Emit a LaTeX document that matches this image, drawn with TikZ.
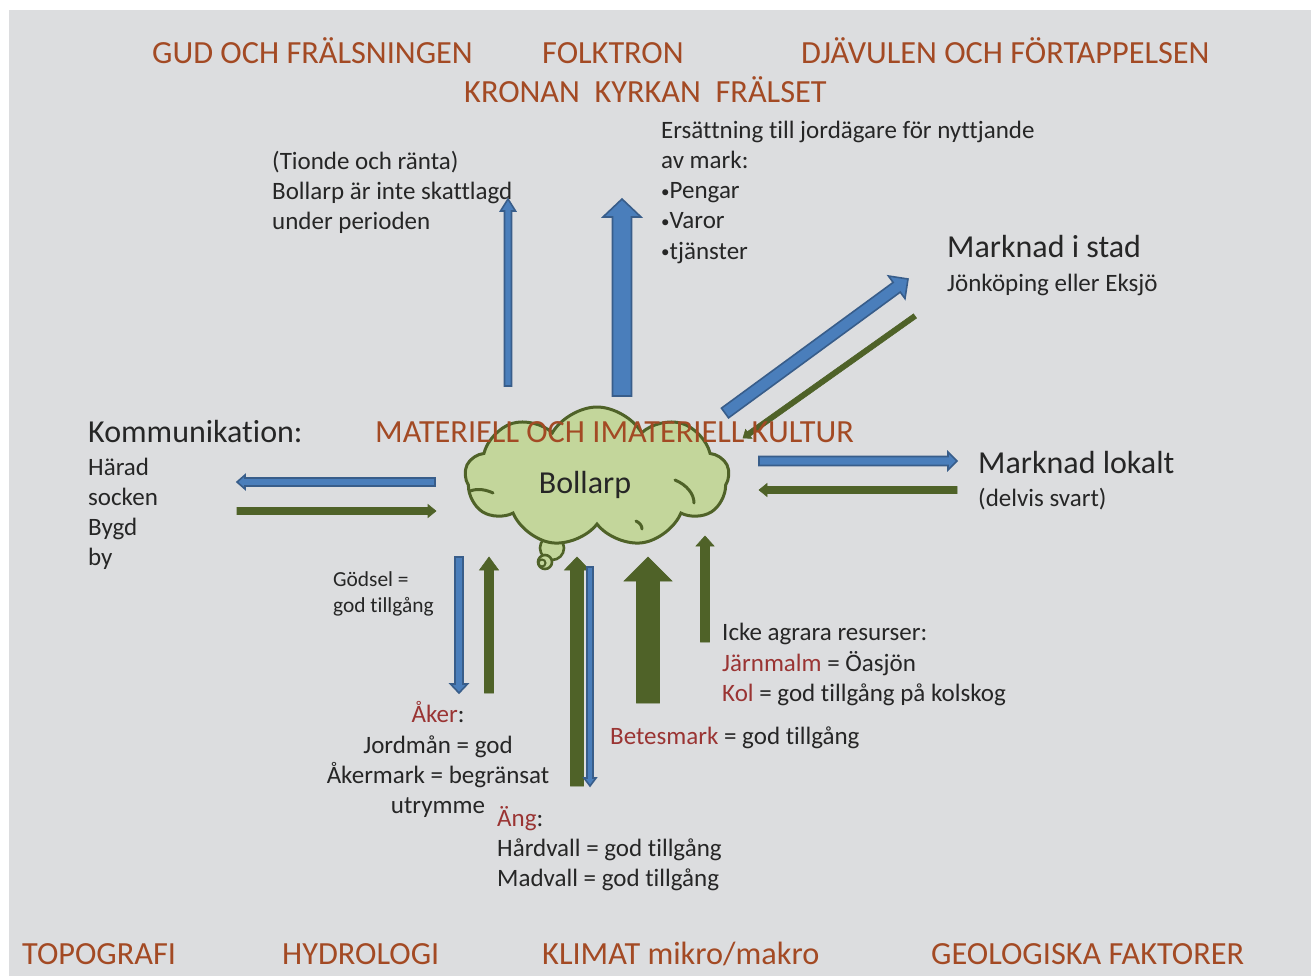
\documentclass[tikz,border=0pt]{standalone}
\usepackage{fontspec}
\setmainfont{Carlito}[Ligatures={NoCommon}]
\usetikzlibrary{shapes.symbols}
\definecolor{bg}{HTML}{DCDDDF}
\definecolor{ttl}{HTML}{A34A24}
\definecolor{lbl}{HTML}{9A3433}
\definecolor{ink}{HTML}{262626}
\definecolor{bfill}{HTML}{4A7EBB}
\definecolor{bline}{HTML}{385D8A}
\definecolor{gfill}{HTML}{4F6228}
\definecolor{cfill}{HTML}{C3D69B}
\newcommand\barr[8]{%
 \pgfmathsetmacro\bdx{(#3)-(#1)}%
 \pgfmathsetmacro\bdy{(#4)-(#2)}%
 \pgfmathsetmacro\bL{veclen(\bdx,\bdy)}%
 \pgfmathsetmacro\bA{atan2(0-(\bdy),\bdx)}%
 \pgfmathsetmacro\bB{\bL-(#7)}%
 \begin{scope}[shift={(#1,#2)},rotate=\bA]
 \draw[#8] (0,-#5) -- (\bB,-#5) -- (\bB,-#6) -- (\bL,0) -- (\bB,#6) -- (\bB,#5) -- (0,#5) -- cycle;
 \end{scope}}
\newcommand\bul{\raisebox{1.5pt}{\fontsize{17}{17}\selectfont•}}
\begin{document}
\begin{tikzpicture}[x=1pt,y=-1pt,
 title/.style={anchor=base west, inner sep=0, text=ttl, font=\fontsize{32.3}{38}\selectfont},
 big/.style={anchor=base west, inner sep=0, text=ink, font=\fontsize{32}{38}\selectfont},
 body/.style={anchor=base west, inner sep=0, text=ink, font=\fontsize{25}{30}\selectfont},
 small/.style={anchor=base west, inner sep=0, text=ink, font=\fontsize{21.4}{26}\selectfont},
 bluearr/.style={fill=bfill, draw=bline, line width=1.6pt},
 greenarr/.style={fill=gfill, draw=gfill, line width=0.6pt},
 bubble/.style={fill=cfill, draw=gfill, line width=2.6pt},
 inarc/.style={draw=gfill, line width=3pt, line cap=round},
]
\useasboundingbox (0,0) rectangle (1311,976);
\fill[bg] (9,10) rectangle (1311,976);

% arrows
\barr{508}{386}{508}{199}{3.5}{7.5}{12}{bluearr}
\barr{622}{396}{622}{199}{9.5}{19}{18}{bluearr}
\barr{725}{413}{908}{279}{6}{14}{14}{bluearr}
\barr{915}{316}{743}{438}{2.6}{5.5}{7}{greenarr}
\barr{435}{482}{237}{482}{4}{7}{8}{bluearr}
\barr{237}{511}{436}{511}{3.5}{6.5}{8}{greenarr}
\barr{759}{461}{957}{461}{4.5}{9}{9}{bluearr}
\barr{957}{490}{759}{490}{3.5}{6.5}{8}{greenarr}
\barr{459}{557}{459}{693}{4}{8.5}{9}{bluearr}
\barr{489}{693}{489}{557}{4.5}{9.5}{13}{greenarr}
\barr{577}{786}{577}{557}{6.5}{12.5}{13}{greenarr}
\barr{590}{567}{590}{786}{3}{6}{8}{bluearr}
\barr{648}{703}{648}{557}{11.5}{24}{24}{greenarr}
\barr{705}{642}{705}{536}{4.5}{9}{10}{greenarr}

% thought bubbles and cloud
\draw[bubble] (552,548) circle[radius=12];
\draw[bubble] (545,562) circle[radius=7];
\draw[gfill, line width=2pt] (542,563) circle[radius=3.5];
\node[cloud, cloud puffs=9, cloud puff arc=120, aspect=1.87, minimum width=264pt, minimum height=140pt, fill=cfill, draw=gfill, line width=3pt, inner sep=0] (cl) at (597,477) {};
\draw[inarc] (675,480) .. controls (687,485) and (694,494) .. (694,503);
\draw[inarc] (470,491) .. controls (478,488) and (487,490) .. (493,493);
\draw[inarc] (636,521) .. controls (640,523) and (642,526) .. (642,529);
\node[big, anchor=base] (bol) at (585,493) {Bollarp};

% titles
\node[title] (gud) at (152,64) {GUD OCH FRÄLSNINGEN};
\node[title] (folk) at (542,64) {FOLKTRON};
\node[title] (djav) at (801,64) {DJÄVULEN OCH FÖRTAPPELSEN};
\node[title] (kron) at (464,103) {KRONAN\ \ KYRKAN\ \ FRÄLSET};
\node[title] (mat) at (375,442) {MATERIELL OCH IMATERIELL KULTUR};
\node[title] (topo) at (22,964) {TOPOGRAFI};
\node[title] (hydr) at (282,964) {HYDROLOGI};
\node[title] (klim) at (542,964) {KLIMAT mikro/makro};
\node[title] (geol) at (931,964) {GEOLOGISKA FAKTORER};

% tionde
\node[body] (ti1) at (272,170) {(Tionde och ränta)};
\node[body] (ti2) at (272,200) {Bollarp är inte skattlagd};
\node[body] (ti3) at (272,230) {under perioden};
% ersattning
\node[body] (er1) at (661,139) {Ersättning till jordägare för nyttjande};
\node[body] (er2) at (661,169) {av mark:};
\node[body] (er3) at (661,199) {\bul Pengar};
\node[body] (er4) at (661,229) {\bul Varor};
\node[body] (er5) at (661,259) {\bul tjänster};
% marknad i stad
\node[big] (ms1) at (947,258) {Marknad i stad};
\node[body] (ms2) at (947,291) {Jönköping eller Eksjö};
% kommunikation
\node[big] (ko1) at (88,442) {Kommunikation:};
\node[body] (ko2) at (88,475) {Härad};
\node[body] (ko3) at (88,505) {socken};
\node[body] (ko4) at (88,535) {Bygd};
\node[body] (ko5) at (88,565) {by};
% marknad lokalt
\node[big] (ml1) at (978,473) {Marknad lokalt};
\node[body] (ml2) at (978,506) {(delvis svart)};
% godsel
\node[small] (go1) at (333,586) {Gödsel =};
\node[small] (go2) at (333,612) {god tillgång};
% aker
\node[body, anchor=base] (ak1) at (438,722) {{\color{lbl}Åker}:};
\node[body, anchor=base] (ak2) at (438,753) {Jordmån = god};
\node[body, anchor=base] (ak3) at (438,783) {Åkermark = begränsat};
\node[body, anchor=base] (ak4) at (438,813) {utrymme};
% ang
\node[body] (an1) at (497,826) {{\color{lbl}Äng}:};
\node[body] (an2) at (497,856) {Hårdvall = god tillgång};
\node[body] (an3) at (497,886) {Madvall = god tillgång};
% betesmark
\node[body] (be1) at (610,744) {{\color{lbl}Betesmark} = god tillgång};
% icke agrara
\node[body] (ic1) at (722,640) {Icke agrara resurser:};
\node[body] (ic2) at (722,671) {{\color{lbl}Järnmalm} = Öasjön};
\node[body] (ic3) at (722,701) {{\color{lbl}Kol} = god tillgång på kolskog};
\end{tikzpicture}
\end{document}
